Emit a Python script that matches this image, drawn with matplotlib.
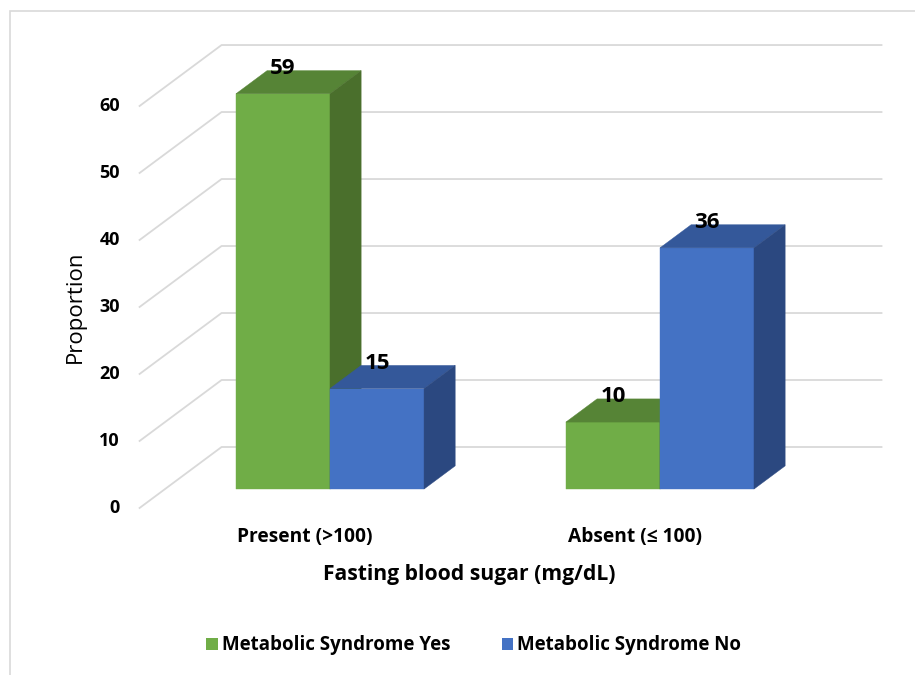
import matplotlib.pyplot as plt
from matplotlib.patches import Polygon, Rectangle, Patch

categories = ['Present (>100)', 'Absent (≤ 100)']
yes_values = [59, 10]
no_values = [15, 36]
series_labels = ['Metabolic Syndrome Yes', 'Metabolic Syndrome No']
y_ticks = [0, 10, 20, 30, 40, 50, 60]

plt.rcParams['font.family'] = ['Open Sans', 'DejaVu Sans']

# face colours: front, top, side
green = ('#70AD47', '#568436', '#4A6F2C')
blue = ('#4472C4', '#34589A', '#2B4880')
grid = '#D9D9D9'

fig = plt.figure(figsize=(9.15, 6.75), dpi=100)
ax = fig.add_axes([0, 0, 1, 1])
ax.set_xlim(-0.923, 1.85)
ax.set_ylim(-24.93, 75.82)
ax.axis('off')

# oblique offset for the full depth of the floor
DX, DV = 0.2485, 9.1


def proj(x, v, d):
    return (x + d * DX, v + d * DV)


# side wall diagonals + back wall gridlines
for t in y_ticks:
    pts = [proj(-0.5, t, 0), proj(-0.5, t, 1), proj(1.5, t, 1)]
    ax.plot([p[0] for p in pts], [p[1] for p in pts], color=grid, lw=1.3, zorder=1)
    ax.text(-0.56, t, str(t), ha='right', va='center', fontsize=13, fontweight='bold')

width = 0.285
d0, d1 = 0.31, 0.69


def bar3d(x_left, value, colors):
    front, top, side = colors
    xr = x_left + width
    faces = [
        ([proj(x_left, 0, d0), proj(xr, 0, d0), proj(xr, value, d0), proj(x_left, value, d0)], front),
        ([proj(x_left, value, d0), proj(xr, value, d0), proj(xr, value, d1), proj(x_left, value, d1)], top),
        ([proj(xr, 0, d0), proj(xr, 0, d1), proj(xr, value, d1), proj(xr, value, d0)], side),
    ]
    for verts, c in faces:
        ax.add_patch(Polygon(verts, closed=True, facecolor=c, edgecolor=c, lw=0.3, zorder=3))
    cx = proj(x_left + width / 2, value, d0)[0]
    ax.text(cx, value + d1 * DV + 0.3, str(value), ha='center', va='center',
            fontsize=16, fontweight='bold', zorder=5)


for i in range(len(categories)):
    bar3d(i - width, yes_values[i], green)
    bar3d(i, no_values[i], blue)
    ax.text(i, -4.33, categories[i], ha='center', va='center', fontsize=13.8, fontweight='bold')

ax.text(0.5, -10.0, 'Fasting blood sugar (mg/dL)', ha='center', va='center',
        fontsize=15.2, fontweight='bold')

fig.text(75 / 915, 1 - 307 / 675, 'Proportion', rotation=90, ha='center', va='center', fontsize=16)

handles = [Patch(facecolor=green[0]), Patch(facecolor=blue[0])]
fig.legend(handles, series_labels, loc='center', bbox_to_anchor=(0.518, 0.044), ncol=2,
           frameon=False, handlelength=0.6, handleheight=0.6, handletextpad=0.25,
           columnspacing=2.7, prop={'weight': 'bold', 'size': 13.5})

# chart-area border
fig.add_artist(Rectangle((10 / 915, -0.1), 1.0, 1.1 - 11 / 675, transform=fig.transFigure,
                         fill=False, edgecolor=grid, lw=1.2))

fig.savefig('out.png', dpi=100)
